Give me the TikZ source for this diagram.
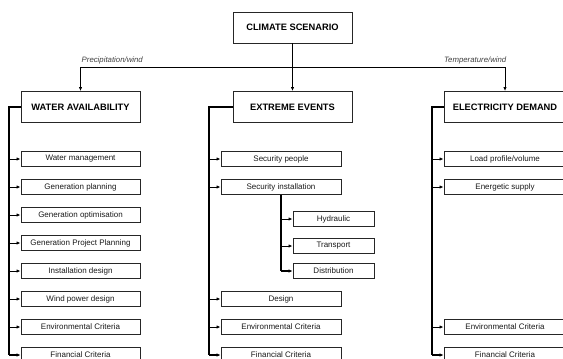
\documentclass[tikz,border=0pt]{standalone}
\usepackage{fontspec}
\setmainfont{Liberation Sans}
\usetikzlibrary{arrows.meta}
\begin{document}
\begin{tikzpicture}[x=1pt,y=-1pt,
  head/.style={draw=black!85, line width=0.9pt, inner sep=0pt, minimum height=31pt,
    font=\bfseries\fontsize{9.3}{11}\selectfont},
  box/.style={draw=black!85, line width=0.9pt, inner sep=0pt, minimum height=15pt,
    font=\fontsize{8}{9.6}\selectfont, text=black!90},
  lbl/.style={font=\itshape\fontsize{7.8}{9}\selectfont, text=black!75, inner sep=0pt},
  stub/.style={-{Latex[length=4pt,width=3.4pt]}, line width=0.8pt},
  laststub/.style={-{Latex[length=4pt,width=3.6pt]}, line width=1.4pt},
  trunk/.style={line width=1.5pt},
  link/.style={line width=0.9pt},
  linkarrow/.style={-{Latex[length=4pt,width=3.4pt]}, line width=0.9pt}]
\useasboundingbox (0,0) rectangle (563,359);

% header nodes
\node[head, minimum width=119pt] (clim) at (292.5,27.5) {CLIMATE SCENARIO};
\node[head, minimum width=119pt] (wat) at (80.5,107) {WATER AVAILABILITY};
\node[head, minimum width=119pt] (ext) at (292.5,107) {EXTREME EVENTS};
\node[head, minimum width=122pt] (ele) at (505,107) {ELECTRICITY DEMAND};

% water children
\node[box, minimum width=119pt] (w1) at (80.5,159) {Water management};
\node[box, minimum width=119pt] (w2) at (80.5,187) {Generation planning};
\node[box, minimum width=119pt] (w3) at (80.5,215) {Generation optimisation};
\node[box, minimum width=119pt] (w4) at (80.5,243) {Generation Project Planning};
\node[box, minimum width=119pt] (w5) at (80.5,271) {Installation design};
\node[box, minimum width=119pt] (w6) at (80.5,299) {Wind power design};
\node[box, minimum width=119pt] (w7) at (80.5,327) {Environmental Criteria};
\node[box, minimum width=119pt] (w8) at (80.5,355) {Financial Criteria};

% extreme children
\node[box, minimum width=120pt] (e1) at (281,159) {Security people};
\node[box, minimum width=120pt] (e2) at (281,187) {Security installation};
\node[box, minimum width=81pt] (s1) at (333.5,219) {Hydraulic};
\node[box, minimum width=81pt] (s2) at (333.5,246) {Transport};
\node[box, minimum width=81pt] (s3) at (333.5,271) {Distribution};
\node[box, minimum width=120pt] (e3) at (281,299) {Design};
\node[box, minimum width=120pt] (e4) at (281,327) {Environmental Criteria};
\node[box, minimum width=120pt] (e5) at (281,355) {Financial Criteria};

% electricity children
\node[box, minimum width=122pt] (l1) at (505,159) {Load profile/volume};
\node[box, minimum width=122pt] (l2) at (505,187) {Energetic supply};
\node[box, minimum width=122pt] (l3) at (505,327) {Environmental Criteria};
\node[box, minimum width=122pt] (l4) at (505,355) {Financial Criteria};

% top distribution
\coordinate (split) at (292.5,67);
\draw[trunk] (clim.south) -- (split);
\draw[link] (wat.north |- split) -- (ele.north |- split);
\draw[linkarrow] (wat.north |- split) -- (wat.north);
\draw[linkarrow] (split) -- (ext.north);
\draw[linkarrow] (ele.north |- split) -- (ele.north);
\node[lbl, anchor=south west] (lp) at (81.5,64.5) {Precipitation/wind};
\node[lbl, anchor=south east] (lt) at (506.5,64.5) {Temperature/wind};

% water bracket
\coordinate (wx) at (9,0);
\draw[trunk] (wat.west) -| (wx |- w8.west);
\foreach \n in {w1,w2,w3,w4,w5,w6,w7} \draw[stub] (wx |- \n.west) -- (\n.west);
\draw[laststub] (wx |- w8.west) -- (w8.west);

% extreme bracket
\coordinate (ex) at (209,0);
\draw[trunk] (ext.west) -| (ex |- e5.west);
\foreach \n in {e1,e2,e3,e4} \draw[stub] (ex |- \n.west) -- (\n.west);
\draw[laststub] (ex |- e5.west) -- (e5.west);

% sub bracket
\coordinate (sx) at (281,0);
\draw[trunk] (e2.south) -- (sx |- s3.west);
\foreach \n in {s1,s2} \draw[stub] (sx |- \n.west) -- (\n.west);
\draw[laststub] (sx |- s3.west) -- (s3.west);

% electricity bracket
\coordinate (lx) at (432,0);
\draw[trunk] (ele.west) -| (lx |- l4.west);
\foreach \n in {l1,l2,l3} \draw[stub] (lx |- \n.west) -- (\n.west);
\draw[laststub] (lx |- l4.west) -- (l4.west);
\end{tikzpicture}
\end{document}
